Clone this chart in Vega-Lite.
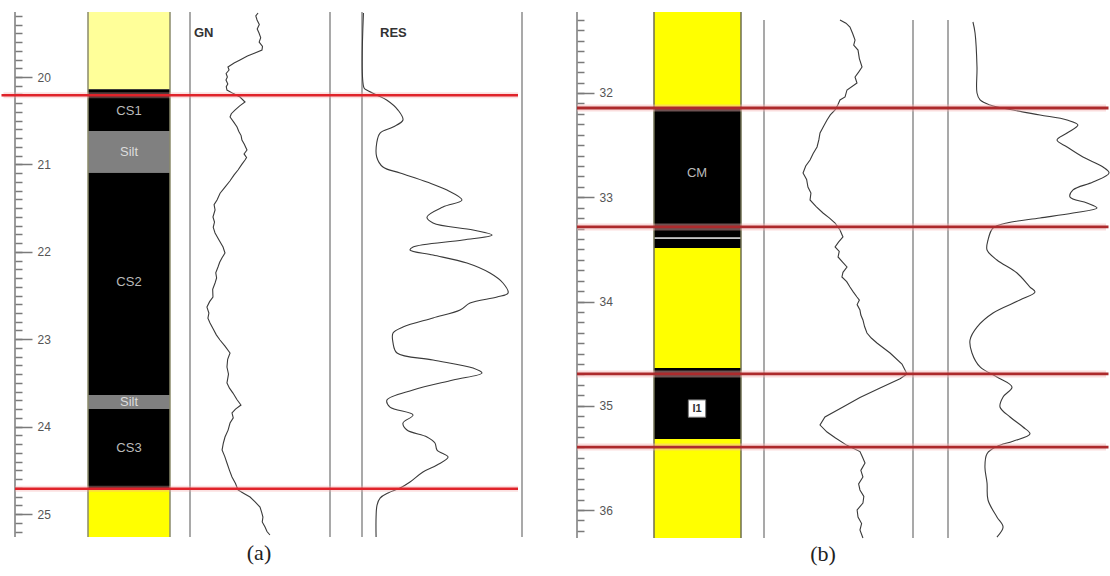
{
"$schema":"https://vega.github.io/schema/vega-lite/v6.json",
"background":"white","padding":0,"spacing":0,
"config":{"view":{"stroke":null},"font":"Liberation Sans"},
"datasets":{
"lith_a":[{"top":19.256,"bottom":20.14,"lith":"Pale sand"},{"top":20.14,"bottom":20.618,"lith":"Coal"},{"top":20.618,"bottom":21.095,"lith":"Silt"},{"top":21.095,"bottom":23.638,"lith":"Coal"},{"top":23.638,"bottom":23.799,"lith":"Silt"},{"top":23.799,"bottom":24.714,"lith":"Coal"},{"top":24.714,"bottom":25.263,"lith":"Sand"}],
"labels_a":[{"depth":20.389,"label":"CS1"},{"depth":20.858,"label":"Silt"},{"depth":22.345,"label":"CS2"},{"depth":23.72,"label":"Silt"},{"depth":24.245,"label":"CS3"}],
"bounds_a":[{"depth":20.21},{"depth":24.71}],
"gn_a":[{"depth":19.268,"gn":48.6},{"depth":19.3,"gn":47.0},{"depth":19.348,"gn":47.9},{"depth":19.4,"gn":49.5},{"depth":19.45,"gn":48.0},{"depth":19.497,"gn":49.3},{"depth":19.55,"gn":50.5},{"depth":19.6,"gn":49.4},{"depth":19.65,"gn":51.8},{"depth":19.691,"gn":51.4},{"depth":19.725,"gn":46.4},{"depth":19.76,"gn":41.0},{"depth":19.805,"gn":35.7},{"depth":19.84,"gn":31.5},{"depth":19.886,"gn":27.1},{"depth":19.92,"gn":27.9},{"depth":19.96,"gn":25.8},{"depth":20.0,"gn":26.7},{"depth":20.034,"gn":25.7},{"depth":20.08,"gn":27.0},{"depth":20.11,"gn":25.9},{"depth":20.149,"gn":26.4},{"depth":20.19,"gn":31.0},{"depth":20.229,"gn":35.7},{"depth":20.286,"gn":39.3},{"depth":20.33,"gn":35.5},{"depth":20.378,"gn":32.1},{"depth":20.42,"gn":29.5},{"depth":20.458,"gn":28.6},{"depth":20.51,"gn":31.0},{"depth":20.572,"gn":33.6},{"depth":20.62,"gn":34.8},{"depth":20.67,"gn":36.5},{"depth":20.721,"gn":37.1},{"depth":20.77,"gn":38.8},{"depth":20.835,"gn":40.7},{"depth":20.88,"gn":38.6},{"depth":20.92,"gn":40.4},{"depth":20.95,"gn":39.3},{"depth":21.0,"gn":37.0},{"depth":21.064,"gn":34.3},{"depth":21.12,"gn":31.5},{"depth":21.19,"gn":28.5},{"depth":21.259,"gn":25.0},{"depth":21.33,"gn":21.5},{"depth":21.407,"gn":19.3},{"depth":21.46,"gn":17.2},{"depth":21.52,"gn":17.9},{"depth":21.602,"gn":16.4},{"depth":21.66,"gn":17.5},{"depth":21.72,"gn":16.6},{"depth":21.785,"gn":17.9},{"depth":21.86,"gn":20.5},{"depth":21.945,"gn":23.6},{"depth":22.014,"gn":25.0},{"depth":22.07,"gn":22.8},{"depth":22.12,"gn":21.2},{"depth":22.174,"gn":20.0},{"depth":22.24,"gn":18.4},{"depth":22.3,"gn":19.0},{"depth":22.357,"gn":17.9},{"depth":22.43,"gn":16.2},{"depth":22.517,"gn":16.4},{"depth":22.57,"gn":14.0},{"depth":22.632,"gn":12.1},{"depth":22.7,"gn":13.5},{"depth":22.76,"gn":12.8},{"depth":22.815,"gn":14.3},{"depth":22.88,"gn":16.5},{"depth":22.95,"gn":18.8},{"depth":23.009,"gn":21.4},{"depth":23.08,"gn":25.0},{"depth":23.158,"gn":28.6},{"depth":23.23,"gn":26.9},{"depth":23.318,"gn":26.4},{"depth":23.4,"gn":27.5},{"depth":23.501,"gn":26.4},{"depth":23.56,"gn":28.2},{"depth":23.616,"gn":30.7},{"depth":23.69,"gn":33.5},{"depth":23.753,"gn":36.4},{"depth":23.8,"gn":32.5},{"depth":23.844,"gn":30.0},{"depth":23.9,"gn":30.9},{"depth":23.959,"gn":28.6},{"depth":24.04,"gn":27.2},{"depth":24.119,"gn":25.0},{"depth":24.19,"gn":23.8},{"depth":24.268,"gn":22.9},{"depth":24.34,"gn":24.8},{"depth":24.416,"gn":26.4},{"depth":24.5,"gn":28.2},{"depth":24.577,"gn":30.0},{"depth":24.65,"gn":32.5},{"depth":24.725,"gn":34.3},{"depth":24.765,"gn":38.5},{"depth":24.805,"gn":42.9},{"depth":24.86,"gn":46.5},{"depth":24.92,"gn":50.0},{"depth":24.98,"gn":51.2},{"depth":25.034,"gn":52.1},{"depth":25.09,"gn":51.6},{"depth":25.149,"gn":53.6},{"depth":25.2,"gn":55.0},{"depth":25.24,"gn":57.1}],
"res_a":[{"depth":19.268,"res":0.9},{"depth":20.126,"res":1.3},{"depth":20.149,"res":2.9},{"depth":20.206,"res":9.2},{"depth":20.263,"res":15.4},{"depth":20.378,"res":22.5},{"depth":20.492,"res":25.6},{"depth":20.572,"res":19.4},{"depth":20.641,"res":11.3},{"depth":20.755,"res":9.2},{"depth":20.915,"res":9.2},{"depth":21.03,"res":13.1},{"depth":21.098,"res":23.8},{"depth":21.201,"res":40.6},{"depth":21.293,"res":53.1},{"depth":21.407,"res":62.5},{"depth":21.487,"res":50.6},{"depth":21.602,"res":40.6},{"depth":21.67,"res":44.4},{"depth":21.751,"res":69.4},{"depth":21.808,"res":81.3},{"depth":21.865,"res":63.1},{"depth":21.945,"res":31.9},{"depth":21.979,"res":30.0},{"depth":22.037,"res":44.4},{"depth":22.128,"res":65.6},{"depth":22.243,"res":80.0},{"depth":22.357,"res":88.1},{"depth":22.471,"res":91.3},{"depth":22.517,"res":84.4},{"depth":22.586,"res":67.5},{"depth":22.666,"res":61.3},{"depth":22.757,"res":44.4},{"depth":22.86,"res":25.6},{"depth":22.929,"res":19.4},{"depth":23.043,"res":19.4},{"depth":23.158,"res":21.9},{"depth":23.238,"res":44.4},{"depth":23.33,"res":69.4},{"depth":23.387,"res":75.0},{"depth":23.467,"res":56.9},{"depth":23.581,"res":31.9},{"depth":23.696,"res":15.6},{"depth":23.776,"res":17.5},{"depth":23.867,"res":31.9},{"depth":23.959,"res":25.6},{"depth":24.039,"res":28.1},{"depth":24.119,"res":40.6},{"depth":24.188,"res":45.6},{"depth":24.268,"res":46.9},{"depth":24.348,"res":53.8},{"depth":24.439,"res":46.9},{"depth":24.519,"res":38.1},{"depth":24.634,"res":30.0},{"depth":24.703,"res":23.8},{"depth":24.76,"res":16.3},{"depth":24.817,"res":11.3},{"depth":24.897,"res":9.4},{"depth":25.034,"res":8.8},{"depth":25.263,"res":8.8}],
"lith_b":[{"top":31.223,"bottom":32.153,"lith":"Sand"},{"top":32.153,"bottom":33.385,"lith":"Coal"},{"top":33.385,"bottom":33.4,"lith":"Parting"},{"top":33.4,"bottom":33.487,"lith":"Coal"},{"top":33.487,"bottom":34.638,"lith":"Sand"},{"top":34.638,"bottom":35.319,"lith":"Coal"},{"top":35.319,"bottom":36.269,"lith":"Sand"}],
"labels_b":[{"depth":32.767,"label":"CM"}],
"unit_b":[{"depth":35.027,"label":"I1"}],
"bounds_b":[{"depth":32.144},{"depth":33.285},{"depth":34.695},{"depth":35.396}],
"gn_b":[{"depth":31.3,"gn":51.0},{"depth":31.33,"gn":55.0},{"depth":31.367,"gn":57.7},{"depth":31.43,"gn":59.5},{"depth":31.492,"gn":61.1},{"depth":31.54,"gn":60.2},{"depth":31.588,"gn":63.1},{"depth":31.67,"gn":64.0},{"depth":31.751,"gn":65.8},{"depth":31.8,"gn":63.5},{"depth":31.847,"gn":61.1},{"depth":31.904,"gn":62.4},{"depth":31.971,"gn":55.7},{"depth":32.038,"gn":54.4},{"depth":32.067,"gn":51.0},{"depth":32.115,"gn":49.5},{"depth":32.163,"gn":47.7},{"depth":32.21,"gn":44.5},{"depth":32.259,"gn":42.3},{"depth":32.32,"gn":40.0},{"depth":32.384,"gn":37.6},{"depth":32.45,"gn":36.8},{"depth":32.518,"gn":35.6},{"depth":32.58,"gn":33.0},{"depth":32.643,"gn":30.9},{"depth":32.7,"gn":28.0},{"depth":32.767,"gn":26.2},{"depth":32.83,"gn":28.6},{"depth":32.902,"gn":29.5},{"depth":32.96,"gn":31.5},{"depth":33.026,"gn":30.9},{"depth":33.09,"gn":35.0},{"depth":33.151,"gn":39.6},{"depth":33.2,"gn":44.0},{"depth":33.247,"gn":47.7},{"depth":33.314,"gn":51.0},{"depth":33.381,"gn":53.0},{"depth":33.43,"gn":50.0},{"depth":33.477,"gn":47.7},{"depth":33.52,"gn":50.5},{"depth":33.573,"gn":49.7},{"depth":33.62,"gn":52.6},{"depth":33.669,"gn":55.7},{"depth":33.72,"gn":53.0},{"depth":33.765,"gn":52.3},{"depth":33.81,"gn":55.5},{"depth":33.861,"gn":57.7},{"depth":33.91,"gn":60.0},{"depth":33.957,"gn":62.4},{"depth":33.986,"gn":64.0},{"depth":34.03,"gn":62.5},{"depth":34.082,"gn":64.4},{"depth":34.13,"gn":65.0},{"depth":34.177,"gn":66.4},{"depth":34.24,"gn":67.5},{"depth":34.302,"gn":69.1},{"depth":34.35,"gn":72.0},{"depth":34.398,"gn":75.8},{"depth":34.494,"gn":84.6},{"depth":34.6,"gn":92.6},{"depth":34.695,"gn":96.0},{"depth":34.74,"gn":91.3},{"depth":34.83,"gn":77.9},{"depth":34.92,"gn":64.4},{"depth":35.012,"gn":53.0},{"depth":35.108,"gn":40.9},{"depth":35.185,"gn":37.6},{"depth":35.252,"gn":42.3},{"depth":35.31,"gn":48.0},{"depth":35.38,"gn":55.7},{"depth":35.44,"gn":64.4},{"depth":35.49,"gn":66.0},{"depth":35.549,"gn":67.8},{"depth":35.62,"gn":65.0},{"depth":35.683,"gn":66.4},{"depth":35.75,"gn":63.5},{"depth":35.808,"gn":64.4},{"depth":35.87,"gn":67.0},{"depth":35.933,"gn":66.4},{"depth":36.0,"gn":62.5},{"depth":36.067,"gn":63.1},{"depth":36.13,"gn":65.5},{"depth":36.192,"gn":64.4},{"depth":36.269,"gn":66.4}],
"res_b":[{"depth":31.319,"res":15.4},{"depth":31.424,"res":16.7},{"depth":31.751,"res":17.9},{"depth":32.0,"res":17.9},{"depth":32.067,"res":19.8},{"depth":32.115,"res":25.9},{"depth":32.163,"res":40.1},{"depth":32.211,"res":56.8},{"depth":32.259,"res":73.5},{"depth":32.307,"res":80.2},{"depth":32.384,"res":73.5},{"depth":32.451,"res":67.3},{"depth":32.518,"res":73.5},{"depth":32.614,"res":83.3},{"depth":32.71,"res":95.7},{"depth":32.767,"res":99.4},{"depth":32.854,"res":89.5},{"depth":32.93,"res":77.2},{"depth":32.998,"res":75.3},{"depth":33.055,"res":85.8},{"depth":33.103,"res":92.0},{"depth":33.151,"res":77.2},{"depth":33.199,"res":56.8},{"depth":33.247,"res":36.4},{"depth":33.295,"res":27.8},{"depth":33.41,"res":24.7},{"depth":33.506,"res":24.1},{"depth":33.602,"res":30.2},{"depth":33.727,"res":42.6},{"depth":33.861,"res":50.6},{"depth":33.909,"res":53.7},{"depth":33.986,"res":44.4},{"depth":34.11,"res":27.8},{"depth":34.245,"res":17.9},{"depth":34.369,"res":13.6},{"depth":34.494,"res":14.8},{"depth":34.628,"res":19.8},{"depth":34.724,"res":30.2},{"depth":34.82,"res":39.5},{"depth":34.916,"res":34.0},{"depth":35.012,"res":32.1},{"depth":35.108,"res":38.3},{"depth":35.204,"res":46.3},{"depth":35.27,"res":50.6},{"depth":35.34,"res":40.1},{"depth":35.39,"res":30.2},{"depth":35.46,"res":24.1},{"depth":35.588,"res":22.8},{"depth":35.741,"res":24.1},{"depth":35.904,"res":24.7},{"depth":36.067,"res":30.2},{"depth":36.163,"res":34.0},{"depth":36.259,"res":30.2}]
},
"hconcat":[
{
"width":550,"height":576,
"resolve":{"scale":{"x":"independent"},"axis":{"y":"independent"}},
"layer":[
{"data":{"name":"lith_a"},"mark":{"type":"rect"},
 "encoding":{"x":{"datum":88,"type":"quantitative","scale":{"domain":[0,550],"nice":false,"zero":false},"axis":null},"x2":{"datum":170},
 "y":{"field":"top","type":"quantitative","scale":{"domain":[19.119,25.709],"reverse":true,"nice":false,"zero":false},
  "axis":{"orient":"right","offset":-535,"values":[20,21,22,23,24,25],"domain":false,"grid":false,"tickSize":17,"tickColor":"#7a7a7a","tickWidth":1.5,"labelPadding":5,"labelFontSize":12,"labelColor":"#555555","labelFont":"Liberation Sans","title":null,"labelFlush":false,"labelOverlap":false}},
 "y2":{"field":"bottom"},
 "fill":{"field":"lith","type":"nominal","scale":{"domain":["Pale sand","Sand","Coal","Silt","Parting"],"range":["#ffff99","#ffff00","#000000","#808080","#c4c4c4"]},"legend":null}}},
{"data":{"name":"labels_a"},"mark":{"type":"text","fontSize":13,"font":"Liberation Sans"},
 "encoding":{"x":{"datum":129,"type":"quantitative","scale":{"domain":[0,550],"nice":false,"zero":false},"axis":null},
 "y":{"field":"depth","type":"quantitative","scale":{"domain":[19.119,25.709],"reverse":true,"nice":false,"zero":false},
  "axis":{"orient":"right","offset":-535,"values":[19.3,19.4,19.5,19.6,19.7,19.8,19.9,20,20.1,20.2,20.3,20.4,20.5,20.6,20.7,20.8,20.9,21,21.1,21.2,21.3,21.4,21.5,21.6,21.7,21.8,21.9,22,22.1,22.2,22.3,22.4,22.5,22.6,22.7,22.8,22.9,23,23.1,23.2,23.3,23.4,23.5,23.6,23.7,23.8,23.9,24,24.1,24.2,24.3,24.4,24.5,24.6,24.7,24.8,24.9,25,25.1,25.2],"domain":false,"grid":false,"tickSize":7,"tickColor":"#7a7a7a","tickWidth":1.5,"labels":false,"title":null}},
 "text":{"field":"label"},
 "color":{"condition":{"test":"datum.label === 'Silt'","value":"#dcdcdc"},"value":"#bababa"}}},
{"data":{"values":[{}]},"mark":{"type":"rule","color":"#7a7a7a","strokeWidth":1.5},
 "encoding":{"x":{"datum":15,"type":"quantitative","scale":{"domain":[0,550],"nice":false,"zero":false},"axis":null},
 "y":{"datum":19.256,"type":"quantitative","scale":{"domain":[19.119,25.709],"reverse":true,"nice":false,"zero":false},"axis":null},"y2":{"datum":25.263}}},
{"data":{"values":[{}]},"mark":{"type":"rule","color":"#8a8a6a","strokeWidth":1.5},
 "encoding":{"x":{"datum":88,"type":"quantitative","scale":{"domain":[0,550],"nice":false,"zero":false},"axis":null},
 "y":{"datum":19.256,"type":"quantitative","scale":{"domain":[19.119,25.709],"reverse":true,"nice":false,"zero":false},"axis":null},"y2":{"datum":25.263}}},
{"data":{"values":[{}]},"mark":{"type":"rule","color":"#8a8a6a","strokeWidth":1.5},
 "encoding":{"x":{"datum":170,"type":"quantitative","scale":{"domain":[0,550],"nice":false,"zero":false},"axis":null},
 "y":{"datum":19.256,"type":"quantitative","scale":{"domain":[19.119,25.709],"reverse":true,"nice":false,"zero":false},"axis":null},"y2":{"datum":25.263}}},
{"data":{"values":[{}]},"mark":{"type":"rule","color":"#8c8c8c","strokeWidth":1.5},
 "encoding":{"x":{"datum":0,"type":"quantitative","scale":{"domain":[0,100],"range":[190,330],"nice":false,"zero":false},"axis":null},
 "y":{"datum":19.256,"type":"quantitative","scale":{"domain":[19.119,25.709],"reverse":true,"nice":false,"zero":false},"axis":null},"y2":{"datum":25.263}}},
{"data":{"values":[{}]},"mark":{"type":"rule","color":"#8c8c8c","strokeWidth":1.5},
 "encoding":{"x":{"datum":100,"type":"quantitative","scale":{"domain":[0,100],"range":[190,330],"nice":false,"zero":false},"axis":null},
 "y":{"datum":19.256,"type":"quantitative","scale":{"domain":[19.119,25.709],"reverse":true,"nice":false,"zero":false},"axis":null},"y2":{"datum":25.263}}},
{"data":{"values":[{}]},"mark":{"type":"rule","color":"#8c8c8c","strokeWidth":1.5},
 "encoding":{"x":{"datum":0,"type":"quantitative","scale":{"domain":[0,100],"range":[362,522],"nice":false,"zero":false},"axis":null},
 "y":{"datum":19.256,"type":"quantitative","scale":{"domain":[19.119,25.709],"reverse":true,"nice":false,"zero":false},"axis":null},"y2":{"datum":25.263}}},
{"data":{"values":[{}]},"mark":{"type":"rule","color":"#8c8c8c","strokeWidth":1.5},
 "encoding":{"x":{"datum":100,"type":"quantitative","scale":{"domain":[0,100],"range":[362,522],"nice":false,"zero":false},"axis":null},
 "y":{"datum":19.256,"type":"quantitative","scale":{"domain":[19.119,25.709],"reverse":true,"nice":false,"zero":false},"axis":null},"y2":{"datum":25.263}}},
{"data":{"name":"gn_a"},"mark":{"type":"line","color":"#3a3a3a","strokeWidth":1.1},
 "encoding":{"x":{"field":"gn","type":"quantitative","scale":{"domain":[0,100],"range":[190,330],"nice":false,"zero":false},"axis":null},
 "y":{"field":"depth","type":"quantitative","scale":{"domain":[19.119,25.709],"reverse":true,"nice":false,"zero":false},"axis":null},
 "order":{"field":"depth","type":"quantitative"}}},
{"data":{"name":"res_a"},"mark":{"type":"line","color":"#3a3a3a","strokeWidth":1.1,"interpolate":"catmull-rom"},
 "encoding":{"x":{"field":"res","type":"quantitative","scale":{"domain":[0,100],"range":[362,522],"nice":false,"zero":false},"axis":null},
 "y":{"field":"depth","type":"quantitative","scale":{"domain":[19.119,25.709],"reverse":true,"nice":false,"zero":false},"axis":null},
 "order":{"field":"depth","type":"quantitative"}}},
{"data":{"values":[{}]},"mark":{"type":"text","text":"GN","fontSize":13,"fontWeight":"bold","align":"left","color":"#333333","font":"Liberation Sans"},
 "encoding":{"x":{"datum":194,"type":"quantitative","scale":{"domain":[0,550],"nice":false,"zero":false},"axis":null},
 "y":{"datum":19.497,"type":"quantitative","scale":{"domain":[19.119,25.709],"reverse":true,"nice":false,"zero":false},"axis":null}}},
{"data":{"values":[{}]},"mark":{"type":"text","text":"RES","fontSize":13,"fontWeight":"bold","align":"left","color":"#333333","font":"Liberation Sans"},
 "encoding":{"x":{"datum":380,"type":"quantitative","scale":{"domain":[0,550],"nice":false,"zero":false},"axis":null},
 "y":{"datum":19.497,"type":"quantitative","scale":{"domain":[19.119,25.709],"reverse":true,"nice":false,"zero":false},"axis":null}}},
{"data":{"values":[{}]},"mark":{"type":"text","text":"(a)","fontSize":22,"color":"#222222","font":"Liberation Serif"},
 "encoding":{"x":{"datum":259,"type":"quantitative","scale":{"domain":[0,550],"nice":false,"zero":false},"axis":null},
 "y":{"datum":25.45,"type":"quantitative","scale":{"domain":[19.119,25.709],"reverse":true,"nice":false,"zero":false},"axis":null}}},
{"data":{"name":"bounds_a"},"transform":[{"filter":"datum.depth < 22"}],"mark":{"type":"rule","color":"#f3a6a6","strokeWidth":6,"opacity":0.35},
 "encoding":{"x":{"datum":3.5,"type":"quantitative","scale":{"domain":[0,550],"nice":false,"zero":false},"axis":null},"x2":{"datum":518},
 "y":{"field":"depth","type":"quantitative","scale":{"domain":[19.119,25.709],"reverse":true,"nice":false,"zero":false},"axis":null}}},
{"data":{"name":"bounds_a"},"transform":[{"filter":"datum.depth < 22"}],"mark":{"type":"rule","color":"#e0232a","strokeWidth":2.5},
 "encoding":{"x":{"datum":1.5,"type":"quantitative","scale":{"domain":[0,550],"nice":false,"zero":false},"axis":null},"x2":{"datum":518},
 "y":{"field":"depth","type":"quantitative","scale":{"domain":[19.119,25.709],"reverse":true,"nice":false,"zero":false},"axis":null}}},
{"data":{"name":"bounds_a"},"transform":[{"filter":"datum.depth > 22"}],"mark":{"type":"rule","color":"#f3a6a6","strokeWidth":6,"opacity":0.35},
 "encoding":{"x":{"datum":15,"type":"quantitative","scale":{"domain":[0,550],"nice":false,"zero":false},"axis":null},"x2":{"datum":518},
 "y":{"field":"depth","type":"quantitative","scale":{"domain":[19.119,25.709],"reverse":true,"nice":false,"zero":false},"axis":null}}},
{"data":{"name":"bounds_a"},"transform":[{"filter":"datum.depth > 22"}],"mark":{"type":"rule","color":"#e0232a","strokeWidth":2.5},
 "encoding":{"x":{"datum":15,"type":"quantitative","scale":{"domain":[0,550],"nice":false,"zero":false},"axis":null},"x2":{"datum":518},
 "y":{"field":"depth","type":"quantitative","scale":{"domain":[19.119,25.709],"reverse":true,"nice":false,"zero":false},"axis":null}}}
]
},
{
"width":560,"height":576,
"resolve":{"scale":{"x":"independent"},"axis":{"y":"independent"}},
"layer":[
{"data":{"name":"lith_b"},"mark":{"type":"rect"},
 "encoding":{"x":{"datum":104,"type":"quantitative","scale":{"domain":[0,560],"nice":false,"zero":false},"axis":null},"x2":{"datum":191},
 "y":{"field":"top","type":"quantitative","scale":{"domain":[31.108,36.633],"reverse":true,"nice":false,"zero":false},
  "axis":{"orient":"right","offset":-533,"values":[32,33,34,35,36],"domain":false,"grid":false,"tickSize":17,"tickColor":"#7a7a7a","tickWidth":1.5,"labelPadding":5,"labelFontSize":12,"labelColor":"#555555","labelFont":"Liberation Sans","title":null,"labelFlush":false,"labelOverlap":false}},
 "y2":{"field":"bottom"},
 "fill":{"field":"lith","type":"nominal","scale":{"domain":["Pale sand","Sand","Coal","Silt","Parting"],"range":["#ffff99","#ffff00","#000000","#808080","#c4c4c4"]},"legend":null}}},
{"data":{"name":"labels_b"},"mark":{"type":"text","fontSize":13,"font":"Liberation Sans","color":"#bababa"},
 "encoding":{"x":{"datum":147,"type":"quantitative","scale":{"domain":[0,560],"nice":false,"zero":false},"axis":null},
 "y":{"field":"depth","type":"quantitative","scale":{"domain":[31.108,36.633],"reverse":true,"nice":false,"zero":false},
  "axis":{"orient":"right","offset":-533,"values":[31.3,31.4,31.5,31.6,31.7,31.8,31.9,32,32.1,32.2,32.3,32.4,32.5,32.6,32.7,32.8,32.9,33,33.1,33.2,33.3,33.4,33.5,33.6,33.7,33.8,33.9,34,34.1,34.2,34.3,34.4,34.5,34.6,34.7,34.8,34.9,35,35.1,35.2,35.3,35.4,35.5,35.6,35.7,35.8,35.9,36,36.1,36.2],"domain":false,"grid":false,"tickSize":7,"tickColor":"#7a7a7a","tickWidth":1.5,"labels":false,"title":null}},
 "text":{"field":"label"}}},
{"data":{"name":"unit_b"},"mark":{"type":"point","shape":"square","filled":true,"color":"#ffffff","stroke":"#777777","strokeWidth":1,"size":300,"opacity":1},
 "encoding":{"x":{"datum":147,"type":"quantitative","scale":{"domain":[0,560],"nice":false,"zero":false},"axis":null},
 "y":{"field":"depth","type":"quantitative","scale":{"domain":[31.108,36.633],"reverse":true,"nice":false,"zero":false},"axis":null}}},
{"data":{"name":"unit_b"},"mark":{"type":"text","fontSize":11,"font":"Liberation Sans","fontWeight":"bold","color":"#333333"},
 "encoding":{"x":{"datum":147,"type":"quantitative","scale":{"domain":[0,560],"nice":false,"zero":false},"axis":null},
 "y":{"field":"depth","type":"quantitative","scale":{"domain":[31.108,36.633],"reverse":true,"nice":false,"zero":false},"axis":null},
 "text":{"field":"label"}}},
{"data":{"values":[{}]},"mark":{"type":"rule","color":"#7a7a7a","strokeWidth":1.5},
 "encoding":{"x":{"datum":27,"type":"quantitative","scale":{"domain":[0,560],"nice":false,"zero":false},"axis":null},
 "y":{"datum":31.223,"type":"quantitative","scale":{"domain":[31.108,36.633],"reverse":true,"nice":false,"zero":false},"axis":null},"y2":{"datum":36.269}}},
{"data":{"values":[{}]},"mark":{"type":"rule","color":"#6e6e50","strokeWidth":1.5},
 "encoding":{"x":{"datum":104,"type":"quantitative","scale":{"domain":[0,560],"nice":false,"zero":false},"axis":null},
 "y":{"datum":31.223,"type":"quantitative","scale":{"domain":[31.108,36.633],"reverse":true,"nice":false,"zero":false},"axis":null},"y2":{"datum":36.269}}},
{"data":{"values":[{}]},"mark":{"type":"rule","color":"#6e6e50","strokeWidth":1.5},
 "encoding":{"x":{"datum":191,"type":"quantitative","scale":{"domain":[0,560],"nice":false,"zero":false},"axis":null},
 "y":{"datum":31.223,"type":"quantitative","scale":{"domain":[31.108,36.633],"reverse":true,"nice":false,"zero":false},"axis":null},"y2":{"datum":36.269}}},
{"data":{"values":[{}]},"mark":{"type":"rule","color":"#8c8c8c","strokeWidth":1.5},
 "encoding":{"x":{"datum":0,"type":"quantitative","scale":{"domain":[0,100],"range":[214,363],"nice":false,"zero":false},"axis":null},
 "y":{"datum":31.3,"type":"quantitative","scale":{"domain":[31.108,36.633],"reverse":true,"nice":false,"zero":false},"axis":null},"y2":{"datum":36.269}}},
{"data":{"values":[{}]},"mark":{"type":"rule","color":"#8c8c8c","strokeWidth":1.5},
 "encoding":{"x":{"datum":100,"type":"quantitative","scale":{"domain":[0,100],"range":[214,363],"nice":false,"zero":false},"axis":null},
 "y":{"datum":31.3,"type":"quantitative","scale":{"domain":[31.108,36.633],"reverse":true,"nice":false,"zero":false},"axis":null},"y2":{"datum":36.269}}},
{"data":{"values":[{}]},"mark":{"type":"rule","color":"#8c8c8c","strokeWidth":1.5},
 "encoding":{"x":{"datum":0,"type":"quantitative","scale":{"domain":[0,100],"range":[398,560],"nice":false,"zero":false},"axis":null},
 "y":{"datum":31.3,"type":"quantitative","scale":{"domain":[31.108,36.633],"reverse":true,"nice":false,"zero":false},"axis":null},"y2":{"datum":36.269}}},
{"data":{"name":"gn_b"},"mark":{"type":"line","color":"#3a3a3a","strokeWidth":1.1},
 "encoding":{"x":{"field":"gn","type":"quantitative","scale":{"domain":[0,100],"range":[214,363],"nice":false,"zero":false},"axis":null},
 "y":{"field":"depth","type":"quantitative","scale":{"domain":[31.108,36.633],"reverse":true,"nice":false,"zero":false},"axis":null},
 "order":{"field":"depth","type":"quantitative"}}},
{"data":{"name":"res_b"},"mark":{"type":"line","color":"#3a3a3a","strokeWidth":1.1,"interpolate":"catmull-rom"},
 "encoding":{"x":{"field":"res","type":"quantitative","scale":{"domain":[0,100],"range":[398,560],"nice":false,"zero":false},"axis":null},
 "y":{"field":"depth","type":"quantitative","scale":{"domain":[31.108,36.633],"reverse":true,"nice":false,"zero":false},"axis":null},
 "order":{"field":"depth","type":"quantitative"}}},
{"data":{"values":[{}]},"mark":{"type":"text","text":"(b)","fontSize":22,"color":"#222222","font":"Liberation Serif"},
 "encoding":{"x":{"datum":273,"type":"quantitative","scale":{"domain":[0,560],"nice":false,"zero":false},"axis":null},
 "y":{"datum":36.42,"type":"quantitative","scale":{"domain":[31.108,36.633],"reverse":true,"nice":false,"zero":false},"axis":null}}},
{"data":{"name":"bounds_b"},"mark":{"type":"rule","color":"#f5b3b3","strokeWidth":7,"opacity":0.45},
 "encoding":{"x":{"datum":27,"type":"quantitative","scale":{"domain":[0,560],"nice":false,"zero":false},"axis":null},"x2":{"datum":556},
 "y":{"field":"depth","type":"quantitative","scale":{"domain":[31.108,36.633],"reverse":true,"nice":false,"zero":false},"axis":null}}},
{"data":{"name":"bounds_b"},"mark":{"type":"rule","color":"#ad2a2c","strokeWidth":2.8},
 "encoding":{"x":{"datum":27,"type":"quantitative","scale":{"domain":[0,560],"nice":false,"zero":false},"axis":null},"x2":{"datum":558.5},
 "y":{"field":"depth","type":"quantitative","scale":{"domain":[31.108,36.633],"reverse":true,"nice":false,"zero":false},"axis":null}}}
]
}
]
}
